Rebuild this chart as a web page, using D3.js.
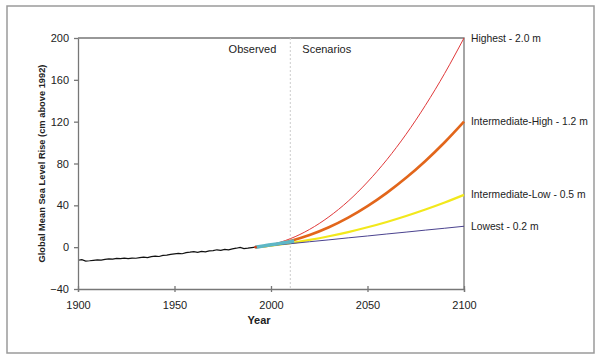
<!DOCTYPE html>
<meta charset="utf-8">
<style>
    body { margin: 0; background: #fff; }
    text {
        font-family: "Liberation Sans", Arial, sans-serif;
        font-size: 11px;
        fill: #222;
    }
    .axis path, .axis line { stroke: #777; stroke-width: 1.3px; }
</style>
<body>
<script src="https://d3js.org/d3.v7.min.js"></script>
<script>
// observed tide-gauge record (cm above 1992)
var obsYears = [1900,1902,1904,1906,1908,1910,1912,1914,1916,1918,1920,1922,1924,1926,1928,1930,1932,1934,1936,1938,
    1940,1942,1944,1946,1948,1950,1952,1954,1956,1958,1960,1962,1964,1966,1968,1970,1972,1974,1976,1978,
    1980,1982,1984,1986,1988,1990,1992];
var obsValues = [-12.5,-12.0,-13.3,-13.0,-12.6,-12.2,-12.4,-11.6,-11.2,-11.5,-10.8,-11.0,-10.5,-10.9,-10.4,-10.6,-10.0,-9.6,-9.9,-9.1,
    -8.6,-8.9,-7.9,-7.6,-6.9,-6.4,-6.0,-6.3,-5.2,-4.8,-4.3,-5.0,-4.1,-4.5,-3.6,-3.3,-2.5,-3.0,-2.2,-2.6,
    -1.6,-1.0,-0.2,-1.3,-1.0,-0.5,0.0];

// satellite record
var satYears = [1992,1996,2000,2004,2008,2012];
var satValues = [0.0,1.2,2.3,3.4,4.6,5.8];

// scenarios
var scenYears = [1992,2000,2010,2020,2030,2040,2050,2060,2070,2080,2090,2100];
var highest   = [0,2.4,8.1,17.0,29.0,44.0,62.3,83.6,108.0,135.6,166.2,200];
var intHigh   = [0,1.9,5.9,11.6,19.0,28.2,39.2,51.9,66.3,82.4,100.3,120];
var intLow    = [0,1.5,3.9,6.9,10.4,14.4,19.0,24.1,29.8,36.0,42.7,50];
var lowest    = [0,1.5,3.3,5.2,7.0,8.9,10.7,12.6,14.4,16.3,18.1,20];

var scenNames  = ["Highest - 2.0 m", "Intermediate-High - 1.2 m", "Intermediate-Low - 0.5 m", "Lowest - 0.2 m"];
var scenColors = ["#e0393a", "#e2661b", "#f2e81c", "#4b438f"];
var scenWidths = [1, 2.6, 2.2, 1];

var xTicks = [1900, 1950, 2000, 2050, 2100];
var yTicks = [-40, 0, 40, 80, 120, 160, 200];

var W = 600, H = 361;
var margin = {top: 38, right: 136, bottom: 72, left: 78};

var svg = d3.select("body").append("svg").attr("width", W).attr("height", H);

// outer frame
svg.append("rect").attr("x", 7).attr("y", 6).attr("width", 587).attr("height", 347)
    .attr("fill", "none").attr("stroke", "#9a9a9a").attr("stroke-width", 1.5);

var x = d3.scaleLinear().domain([1900, 2100]).range([margin.left, W - margin.right]);
var y = d3.scaleLinear().domain([-40, 200]).range([H - margin.bottom, margin.top]);

// plot box top and right
svg.append("path")
    .attr("d", "M" + x(1900) + "," + y(200) + "H" + x(2100) + "V" + y(-40))
    .attr("fill", "none").attr("stroke", "#777").attr("stroke-width", 1.3);

// observed / scenarios divider
svg.append("line")
    .attr("x1", x(2010)).attr("x2", x(2010)).attr("y1", y(200)).attr("y2", y(-40))
    .attr("stroke", "#ccc").attr("stroke-dasharray", "2,2");

svg.append("text").attr("x", x(2010) - 14).attr("y", 53).attr("text-anchor", "end").text("Observed");
svg.append("text").attr("x", x(2010) + 12).attr("y", 53).text("Scenarios");

var line = d3.line().x(function(d) { return x(d[0]); }).y(function(d) { return y(d[1]); }).curve(d3.curveMonotoneX);

var scenData = [highest, intHigh, intLow, lowest];
scenData.forEach(function(vals, i) {
    svg.append("path")
        .datum(scenYears.map(function(yr, j) { return [yr, vals[j]]; }))
        .attr("d", line)
        .attr("fill", "none")
        .attr("stroke", scenColors[i])
        .attr("stroke-width", scenWidths[i]);

    svg.append("text")
        .attr("x", x(2100) + 7)
        .attr("y", y(vals[vals.length - 1]) + 3.5)
        .style("font-size", "10.3px")
        .text(scenNames[i]);
});

// satellite
svg.append("path")
    .datum(satYears.map(function(yr, j) { return [yr, satValues[j]]; }))
    .attr("d", line)
    .attr("fill", "none").attr("stroke", "#5db7c6").attr("stroke-width", 3.5);

// observed
svg.append("path")
    .datum(obsYears.map(function(yr, j) { return [yr, obsValues[j]]; }))
    .attr("d", d3.line().x(function(d) { return x(d[0]); }).y(function(d) { return y(d[1]); }))
    .attr("fill", "none").attr("stroke", "#111").attr("stroke-width", 1.2);

svg.append("circle").attr("cx", x(1992)).attr("cy", y(0)).attr("r", 1.3).attr("fill", "#d2401c");

// axes
var xAxis = svg.append("g").attr("class", "axis")
    .attr("transform", "translate(0," + y(-40) + ")")
    .call(d3.axisBottom(x).tickValues(xTicks).tickFormat(d3.format("d")).tickSize(3).tickPadding(9));
xAxis.selectAll(".tick line").attr("y1", -3);
xAxis.selectAll("text").style("font-size", "11px").style("fill", "#222");

var yAxis = svg.append("g").attr("class", "axis")
    .attr("transform", "translate(" + x(1900) + ",0)")
    .call(d3.axisLeft(y).tickValues(yTicks).tickSize(4).tickSizeOuter(0).tickPadding(5));
yAxis.selectAll("text").style("font-size", "11px").style("fill", "#222");

svg.append("text").attr("x", 259).attr("y", 324).attr("text-anchor", "middle")
    .style("font-weight", "bold").text("Year");

svg.append("text")
    .attr("transform", "translate(45," + ((y(200) + y(-40)) / 2) + ") rotate(-90)")
    .attr("text-anchor", "middle")
    .style("font-weight", "bold").style("font-size", "9.3px")
    .text("Global Mean Sea Level Rise (cm above 1992)");
</script>
